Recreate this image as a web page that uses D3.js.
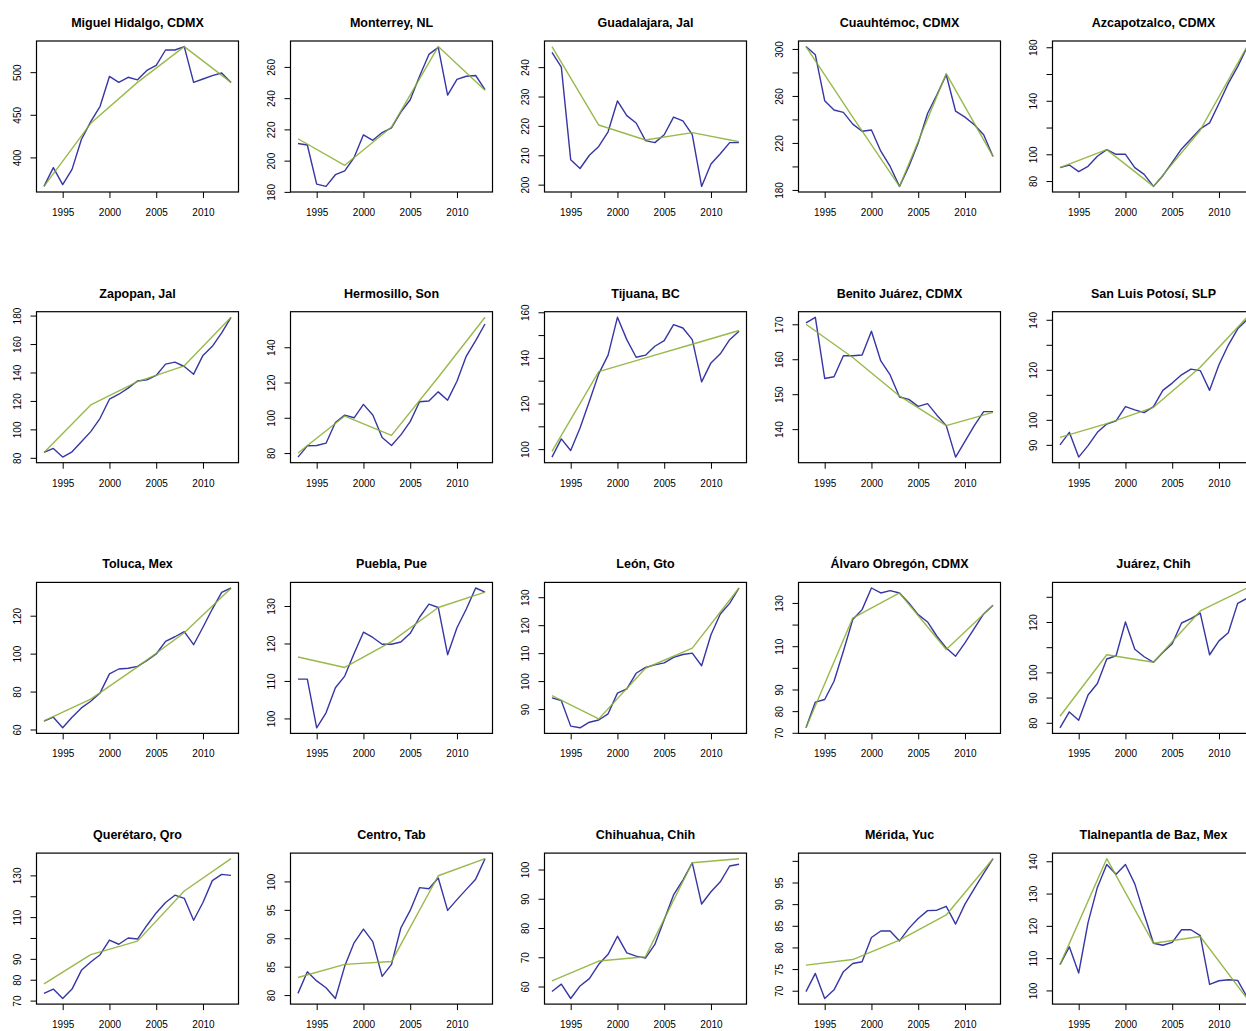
<!DOCTYPE html>
<html>
<head>
<meta charset="utf-8">
<script src="https://cdn.jsdelivr.net/npm/d3@7"></script>
<style>
  body { margin: 0; background: #fff; }
  svg text { font-family: "Liberation Sans", Arial, Helvetica, sans-serif; fill: #000; }
</style>
</head>
<body>
<svg id="chart" width="1246" height="1031"></svg>
<script>
const years = [1993, 1994, 1995, 1996, 1997, 1998, 1999, 2000, 2001, 2002, 2003,
               2004, 2005, 2006, 2007, 2008, 2009, 2010, 2011, 2012, 2013];
const knotYears = [1993, 1998, 2003, 2008, 2013];
const xTicks = [1995, 2000, 2005, 2010];

const cities = [
  "Miguel Hidalgo, CDMX", "Monterrey, NL", "Guadalajara, Jal", "Cuauhtémoc, CDMX", "Azcapotzalco, CDMX",
  "Zapopan, Jal", "Hermosillo, Son", "Tijuana, BC", "Benito Juárez, CDMX", "San Luis Potosí, SLP",
  "Toluca, Mex", "Puebla, Pue", "León, Gto", "Álvaro Obregón, CDMX", "Juárez, Chih",
  "Querétaro, Qro", "Centro, Tab", "Chihuahua, Chih", "Mérida, Yuc", "Tlalnepantla de Baz, Mex"
];

// yearly series (blue), 1993..2013
const observed = [
  [366, 388, 368, 386, 421, 442, 460, 495, 488, 494, 491, 502, 508, 526, 526, 530, 488, 492, 496, 499, 488],
  [211, 210, 185, 183.5, 191, 193.5, 202, 216.5, 213, 218, 221, 231, 239, 254, 268, 272.5, 242, 252, 254, 254.5, 245.5],
  [245, 240, 208.5, 205.5, 210, 213, 218, 228.5, 223.5, 221, 215, 214.3, 217, 223, 221.7, 217, 199.4, 207, 210.5, 214.3, 214.3],
  [302, 295, 256, 248, 246, 236, 230, 231, 213, 200, 183, 200, 220, 245, 261, 278, 247, 242, 235.5, 227, 208.5],
  [90, 92, 87, 91, 98.5, 103.5, 100, 100, 90, 85, 76, 84, 94, 104, 111.5, 119, 123.5, 138, 153, 165.5, 180],
  [83.8, 86.6, 80.5, 84.2, 91.3, 98.4, 107.8, 121.2, 124.7, 129, 134, 134.8, 137.9, 145.9, 147.3, 144.2, 138.8, 152, 158.4, 167.8, 178.8],
  [77.7, 84.1, 84.3, 85.6, 97.3, 101.5, 100, 107.6, 101.6, 88.8, 84.3, 90.3, 97.8, 109.1, 109.5, 114.7, 110, 120.7, 135, 143.8, 153.2],
  [96.5, 104.5, 99.4, 109.3, 121, 133, 141.2, 157.8, 148, 140.3, 141.2, 145.1, 147.6, 154.6, 153.1, 148, 129.5, 137.8, 141.8, 148, 151.7],
  [170.4, 172, 154.5, 155, 161, 161, 161.2, 168, 159.5, 155.5, 149.2, 148.5, 146.5, 147.3, 144, 141, 132, 136.5, 141, 145, 145],
  [90, 95, 85.1, 89.7, 95, 98.3, 99.6, 105.3, 104, 102.9, 105.3, 111.8, 114.7, 118, 120.3, 119.7, 111.8, 122, 129.9, 136.4, 140],
  [64.4, 66.5, 60.9, 66.5, 71.4, 74.9, 79.3, 89.3, 91.9, 92.3, 93.3, 96.3, 99.8, 106.5, 108.9, 111.6, 104.7, 113.9, 123.5, 132.3, 134.6],
  [110.5, 110.5, 97.5, 101.5, 108.2, 111.3, 117.3, 123, 121.6, 119.8, 119.8, 120.4, 122.7, 127, 130.5, 129.6, 117, 124.2, 129.2, 134.8, 133.7],
  [94, 93, 83.9, 83.3, 85.3, 86.1, 88.3, 95.7, 97.2, 102.8, 104.9, 105.8, 106.5, 108.5, 109.5, 110, 105.5, 116.6, 124, 127.8, 133.3],
  [72.3, 84.2, 85.4, 93.8, 107.7, 122.3, 126.9, 136.9, 134.6, 135.7, 134.6, 130, 124.6, 121.2, 114.6, 109.2, 105.4, 111.5, 118.2, 124.9, 128.9],
  [78, 84.3, 81, 91, 95.6, 105.3, 106.6, 120, 109.2, 106.2, 104, 107.9, 111.4, 119.6, 121.3, 123.5, 107, 112.5, 115.7, 127.4, 129.4],
  [73.5, 75.5, 71, 75.5, 84.5, 88.5, 92, 99, 97, 100, 99.5, 106, 112, 117, 120.5, 119, 108.5, 117, 127.5, 130.5, 130],
  [80.3, 84.1, 82.5, 81.3, 79.4, 85.1, 89.2, 91.6, 89.4, 83.3, 85.4, 91.8, 94.9, 98.9, 98.7, 100.6, 94.9, 96.8, 98.6, 100.4, 104],
  [58.3, 60.8, 55.9, 60.2, 62.7, 67.6, 71, 77.2, 71.5, 70.4, 69.7, 74.4, 82.8, 91.3, 96.4, 102.3, 88.2, 92.4, 95.8, 101.2, 101.8],
  [69.8, 74, 68.2, 70.2, 74.4, 76.3, 76.7, 82.3, 83.8, 83.8, 81.5, 84.4, 86.7, 88.5, 88.6, 89.5, 85.4, 90, 93.6, 97.1, 100.5],
  [108, 113.5, 105.4, 121, 131.9, 139, 136, 139, 133, 123.6, 114.6, 114, 114.9, 118.8, 118.8, 117, 101.9, 103, 103.3, 103.1, 98]
];

// segmented fit (green), values at knotYears
const fitted = [
  [366, 440, 488, 530, 488],
  [214, 197, 221.5, 273, 245],
  [247, 220.3, 215.2, 217.7, 214.6],
  [302, 242, 183, 279, 208.5],
  [90, 103.5, 76, 118, 180.5],
  [83.8, 117.2, 133.6, 144.7, 178.8],
  [80, 101, 90, 123, 157],
  [99, 134, 140, 146, 152],
  [170, 160.5, 149.5, 141, 144.8],
  [93, 98.5, 105, 121, 141],
  [64.5, 76, 93, 111, 134.5],
  [116.4, 113.6, 120.5, 129.6, 133.7],
  [94.8, 86.5, 104.6, 111.8, 133.3],
  [72.3, 123, 134.6, 108.5, 128.9],
  [82.6, 107, 104, 124.4, 133.5],
  [78, 92, 98.5, 122.5, 138],
  [83.1, 85.4, 85.9, 101, 104],
  [61.9, 68.7, 70.2, 102.3, 103.7],
  [75.9, 77.2, 81.7, 87.5, 100.5],
  [108, 140.8, 114.6, 116.7, 97.5]
];

const yTicks = [
  [400, 450, 500], [180, 200, 220, 240, 260], [200, 210, 220, 230, 240],
  [180, 200, 220, 240, 260, 280, 300], [80, 100, 120, 140, 160, 180],
  [80, 100, 120, 140, 160, 180], [80, 100, 120, 140], [100, 110, 120, 130, 140, 150, 160],
  [140, 150, 160, 170], [90, 100, 110, 120, 130, 140],
  [60, 80, 100, 120], [100, 110, 120, 130], [90, 100, 110, 120, 130],
  [70, 80, 90, 100, 110, 120, 130], [80, 90, 100, 110, 120, 130],
  [70, 80, 90, 100, 110, 120, 130], [80, 85, 90, 95, 100], [60, 70, 80, 90, 100],
  [70, 75, 80, 85, 90, 95, 100], [100, 110, 120, 130, 140]
];

const yLabels = [
  [400, 450, 500], [180, 200, 220, 240, 260], [200, 210, 220, 230, 240],
  [180, 220, 260, 300], [80, 100, 140, 180],
  [80, 100, 120, 140, 160, 180], [80, 100, 120, 140], [100, 120, 140, 160],
  [140, 150, 160, 170], [90, 100, 120, 140],
  [60, 80, 100, 120], [100, 110, 120, 130], [90, 100, 110, 120, 130],
  [70, 80, 90, 110, 130], [80, 90, 100, 120],
  [70, 80, 90, 110, 130], [80, 85, 90, 95, 100], [60, 70, 80, 90, 100],
  [70, 75, 80, 85, 90, 95], [100, 110, 120, 130, 140]
];

const svg = d3.select("#chart");
svg.append("rect").attr("width", 1246).attr("height", 1031).attr("fill", "#fff");

const config = { left0: 36.5, top0: 41, colStep: 254, rowStep: 270.7, w: 202, h: 151, cols: 5 };
const blue = "#3636a4", green = "#86ad2c";

// R style 4% padding of the data range
const pad = (lo, hi) => { const d = (hi - lo) * 0.04; return [lo - d, hi + d]; };

cities.forEach((name, i) => {
  const col = i % config.cols, row = Math.floor(i / config.cols);
  const g = svg.append("g")
    .attr("transform", `translate(${config.left0 + col * config.colStep},${config.top0 + row * config.rowStep})`);

  const x = d3.scaleLinear().domain(pad(years[0], years[years.length - 1])).range([0, config.w]);
  const ext = d3.extent(observed[i].concat(fitted[i]));
  const y = d3.scaleLinear().domain(pad(ext[0], ext[1])).range([config.h, 0]);

  // x axis
  const xa = g.append("g")
    .attr("transform", `translate(0,${config.h})`)
    .call(d3.axisBottom(x).tickValues(xTicks).tickSize(6).tickSizeOuter(0).tickPadding(11).tickFormat(d3.format("d")));
  xa.select(".domain").remove();
  xa.selectAll("line").attr("stroke", "#000").attr("stroke-width", 1);
  xa.selectAll("text").attr("font-size", 10);

  // y axis, labels parallel to the axis
  const ya = g.append("g")
    .call(d3.axisLeft(y).tickValues(yTicks[i]).tickSize(6).tickSizeOuter(0)
      .tickFormat(d => yLabels[i].includes(d) ? d : ""));
  ya.select(".domain").remove();
  ya.selectAll("line").attr("stroke", "#000").attr("stroke-width", 1);
  ya.selectAll("text")
    .attr("x", null).attr("dy", null)
    .attr("text-anchor", "middle")
    .attr("font-size", 10)
    .attr("transform", "translate(-16,0) rotate(-90)");

  const line = d3.line().x((d, j) => x(years[j])).y(d => y(d));
  const fitLine = d3.line().x((d, j) => x(knotYears[j])).y(d => y(d));

  g.append("path")
    .attr("d", line(observed[i]))
    .attr("fill", "none")
    .attr("stroke", blue)
    .attr("stroke-width", 1.4)
    .attr("stroke-linejoin", "round");

  g.append("path")
    .attr("d", fitLine(fitted[i]))
    .attr("fill", "none")
    .attr("stroke", green)
    .attr("stroke-width", 1.4)
    .attr("stroke-opacity", 0.85)
    .attr("stroke-linejoin", "round");

  g.append("rect")
    .attr("width", config.w).attr("height", config.h)
    .attr("fill", "none").attr("stroke", "#000").attr("stroke-width", 1.2);

  g.append("text")
    .attr("x", config.w / 2).attr("y", -14)
    .attr("text-anchor", "middle")
    .attr("font-size", 12.5)
    .attr("font-weight", "bold")
    .text(name);
});
</script>
</body>
</html>
